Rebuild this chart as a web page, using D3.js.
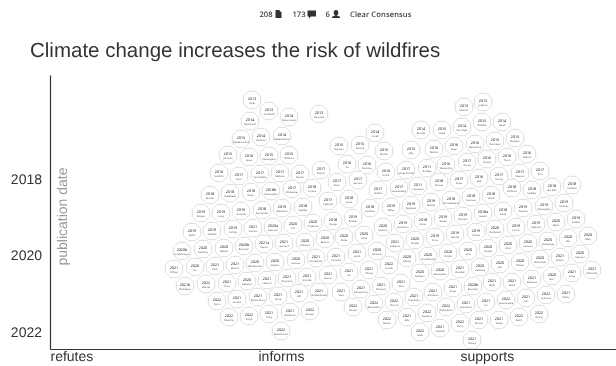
<!DOCTYPE html>
<html lang="en">
<head>
<meta charset="UTF-8">
<title>Climate change increases the risk of wildfires</title>
<style>
    html, body { margin: 0; padding: 0; background: #fff; overflow: hidden; }
    svg { display: block; text-rendering: geometricPrecision; filter: grayscale(1); }
</style>
</head>
<body>
<svg id="svg" width="616" height="366"></svg>
<script src="https://cdn.jsdelivr.net/npm/d3@7"></script>
<script>
// values
const chartTitle = "Climate change increases the risk of wildfires";
const headerCounts = ["208", "173", "6"];
const headerVerdict = "Clear Consensus";

const xTickValues = [-104, 0, 101];
const xTickLabels = ["refutes", "informs", "supports"];
const yTickValues = [0, 76.5, 153];
const yTickLabels = ["2018", "2020", "2022"];
const yAxisLabel = "publication date";

const paperYears = [
    "2013","2014","2013","2014","2013","2015","2014","2014","2015","2016",
    "2015","2015","2016","2017","2017","2017","2017","2017","2018","2018",
    "2018","2018b","2017","2018","2019","2019","2019","2018","2019","2018",
    "2019","2019","2019","2021","2020a","2020","2020","2020b","2020","2020",
    "2020b","2021a","2021","2020","2021","2020","2021","2021","2020","2020",
    "2020","2021","2021","2021b","2022","2021","2020","2021","2021","2021",
    "2021","2022","2021","2021","2021","2021","2021","2022","2022","2021",
    "2021","2022","2022","2015","2015","2016","2016","2014","2015","2016",
    "2017","2017","2017","2017","2018","2018","2018","2019","2020","2020",
    "2020","2020","2021","2020","2021","2021","2022","2021","2021","2021",
    "2021","2022","2014","2015","2013","2014","2013","2015","2014","2015",
    "2016","2016","2016","2015","2015","2017","2011","2016","2017","2016",
    "2016","2016","2017","2011","2018","2017","2016","2017","2017","2017",
    "2019","2019","2019","2018","2018","2018","2018","2018","2018","2018",
    "2019","2018","2019","2019","2018a","2018","2019","2019","2019","2021",
    "2020","2019","2019","2019","2020","2019","2019","2020","2019","2020",
    "2020","2020","2020","2020","2020","2020","2020","2020","2020","2020",
    "2020","2021","2020","2020","2020","2020","2021","2020","2021","2021",
    "2020b","2021","2021","2021","2020","2021","2021","2022","2022","2021",
    "2022","2021","2021","2022","2021","2022","2021","2022","2021","2022",
    "2022","2021","2021","2022","2022","2022","2021","2021"
];

const paperAuthors = [
    "Ogle","Reinhardt","Archibald","Bojanowski","Hanaoka","Aghakouchak","Bistinas","Abdelrahman","Johnson","Hsiao",
    "Abatzoglou","Williams","Hanklin","Hurt","Yannakakis","Gibbons","Benali","Ruprin","Bruder","Hollebeek",
    "Doerr","Abatzoglou","Kitzberger","Urrutia","Rogers","Lang","Varanda","Fernandez","Robinson","Koehler",
    "Tedim","Abdalla","Kirkby","Vasconi","Pearson","Oil","Prudence","Lindenmayer","Halofsky","Abbott",
    "Bowman","Pierce","Harvard","Johnston","Officer","Hu","Park","Marlon","Westbrooks","Higgins",
    "Hansen","Concepción","Turcotte","Rodriguez","Merida","Ortiz","LeBreton","Liberati","Dennison","Ermitão",
    "Garcia","Parco","Aurelio","Dennisthorn","Hung","Hill","Vandenbroek","Mancilla","Singh","Tang",
    "Wolfgram","Boreux","Westmacott","Higuera","Hening","Ye","Pechony","Curell","Brooks","Smith",
    "Knorr","Serrano","Holden","Syphard","Jones","Ivanhoe","Knapp","Poulter","Hickory","Balsam",
    "Parks","Littell","Lamb","McCarty","Hu","Cheng","Carallo","Silva","Wasserman","Dunnery",
    "Smit","Roofer","Brando","Hope","Morton","Van Oijen","Jackson","Rodolfo","Head","Jolly",
    "Perkins","Keeri","Westerling","Flannigan","Barbero","James Parcell","Bradley","Westerling","Young","Parisot",
    "Turco","Wotton","Stuckenberg","Luyssaert","Alvarez","Page","Salk","Young","Masson","Tarn",
    "Dikes","Ruggiero","Moody","Schmeltzberg","Hurteau","Hood","Williams","Helliker","Bartlett","Cradock",
    "Hofmann","Forrer","Green","Romero","Hewitt","Littell","Parente","Abatzoglou","Holmes","Collenon",
    "Virgilio","Sirus","Gerald","Canjes","Bradstock","Harris","Syphard","Matin","Kolden","Zhang",
    "Cruickshank","Virgilio","Xing","Cloudy","Ahat","Hanson","Kitzberger","Doi","Riley","Barbero",
    "Abatzoglou","Alizadeh","Halofsky","Jain","Wilson","Dobrowski","Brown","Higuera","Ashdown","Kings",
    "Bowman","Abdo","Mack","Peterson","Barr","Jones","McCarthy","Bernardino","Chiram","Impakata",
    "Richardson","Hamerow","Jin","Senanayake","Just","Lafrance","Mosly","Brown","Ellis","Hawkins",
    "Perry","Burton","Turley","Balch","Doing","Seidl","Crowfall","Urbany"
];

// stance score: refutes about -104, informs 0, supports about 101
const paperStance = [
    -3,-4,5.5,15.5,30.5,-8.5,1.5,12,-15,-4.5,
    5.5,15.5,-19.5,-9.5,1,11,21,31.5,-24,-14,
    -3.5,6.5,17,27,-28.5,-18.5,-8.5,2,12,22.5,
    -33,-23,-12.5,-2.5,7.5,17.5,27.5,-38,-27.5,-17,
    -7,3,13,23.5,-42,-31.5,-21.5,-11.5,-1.5,8.5,
    19,29,39,-36.5,-26,-15.5,-5.5,4.5,14.5,24.5,
    35,-20.5,-10.5,0,10,20.5,30.5,-14.5,-4.5,5.5,
    16,26,11.5,40.5,51,44.5,54.5,58.5,63,64,
    39.5,50,60,35,45.5,56,37.5,47.5,62.5,33.5,
    43,53,49.5,59.5,45.5,55.5,65.5,41.5,51.5,61.5,
    71.5,47.5,81.5,92,103,102,112.5,112,122,76.5,
    88,98,108.5,118.5,128.5,74,84.5,94,104.5,114.5,
    124.5,134.5,70.5,80,90.5,100.5,110.5,120.5,131,141,
    66.5,76.5,86.5,96.5,106.5,116.5,127,137,147,157,
    72.5,82.5,92.5,102.5,112.5,122.5,132.5,143,153,68.5,
    78.5,88.5,98.5,109,118.5,129,139,149,159,74.5,
    85,95,105,115,125,135,145,155,165,81,
    91,101,111,121,131,141,151,161,87.5,97.5,
    107.5,117,127,137,147,157,167,58,68,78,
    94,104,114,124,134,144,154,64.5,74.5,84.5,
    101,110.5,120.5,130.5,140.5,81,91,107
];

// publication date in ten-day steps from the start of 2018, as placed in the chart
const paperPublished = [
    -79,-58,-68,-62,-65,-40,-42,-43,-24,-22,
    -23,-24,-6,-3,-5,-6,-5,-9,16,14,
    13,12,10,9,34,34,32,31,29,28,
    53,52,50,49,48,46,44,72,70,69,
    67,65,64,63,90,88,87,86,84,83,
    81,79,78,107,105,104,102,101,99,98,
    96,122,120,118,117,114,113,138,137,135,
    133,132,152,-33,-34,-15,-14,-46,-28,-7,
    3,1,11,22,20,29,42,39,48,60,
    58,56,74,72,93,91,86,113,110,107,
    104,128,-49,-49,-72,-52,-77,-57,-57,-29,
    -30,-33,-35,-38,-41,-9,-11,-14,-17,-20,
    -22,-25,9,7,3,1,-1,-3,-6,-8,
    28,26,23,21,18,16,9,11,8,6,
    45,42,39,37,34,32,29,27,24,64,
    61,58,55,53,50,48,45,43,40,79,
    77,74,72,69,66,64,62,59,57,94,
    92,90,88,85,83,80,78,75,113,109,
    107,103,103,100,97,94,91,125,123,118,
    128,125,123,121,119,116,115,141,138,134,
    144,141,141,138,135,153,149,161
];

const svg = d3.select("#svg");
const textColor = "#333";
const sansFont = "'Liberation Sans', Arial, sans-serif";
const smallFont = "'Noto Sans', sans-serif";

const x = d3.scaleLinear().domain([-104, 179]).range([50, 616]);
const y = d3.scaleLinear().domain([-104, 170]).range([75, 349]);

// header line
const header = svg.append("g")
    .attr("font-family", smallFont)
    .attr("font-size", 7.6)
    .attr("font-weight", 500)
    .attr("fill", textColor);
[259.5, 292.5, 325.5].forEach((left, i) => {
    header.append("text").attr("x", left).attr("y", 17).text(headerCounts[i]);
});
header.append("text").attr("x", 350).attr("y", 17).attr("letter-spacing", 0.1).text(headerVerdict);
// document, comment and person icons
header.append("path").attr("d", "M275.5 10h3.5l2.5 2.5v5.5h-6z");
header.append("path").attr("d", "M307.5 10.5h8.5v6h-5l-2 2v-2h-1.5z");
header.append("path").attr("d", "M336 10a2.2 2.6 0 0 1 0 5.4a2.2 2.6 0 0 1 0-5.4zM332 18v-1.2l3-1.4h2l3 1.4v1.2z");

svg.append("text")
    .attr("x", 30)
    .attr("y", 57)
    .attr("font-family", sansFont)
    .attr("font-size", 20.5)
    .attr("fill", textColor)
    .text(chartTitle);

// axes
const yAxis = svg.append("g")
    .attr("transform", `translate(${x.range()[0]},0)`)
    .call(d3.axisLeft(y).tickValues(yTickValues).tickFormat((d, i) => yTickLabels[i]).tickSize(0).tickPadding(8));
const xAxis = svg.append("g")
    .attr("transform", `translate(0,${y.range()[1]})`)
    .call(d3.axisBottom(x).tickValues(xTickValues).tickFormat((d, i) => xTickLabels[i]).tickSize(0).tickPadding(2));
[yAxis, xAxis].forEach(axis => {
    axis.selectAll("text")
        .attr("font-family", sansFont)
        .attr("font-size", 14)
        .attr("fill", textColor);
    axis.select(".domain").attr("stroke", textColor).attr("stroke-width", 1.2);
});
xAxis.selectAll("text").attr("text-anchor", "start");

svg.append("text")
    .attr("transform", "translate(67,216.5) rotate(-90)")
    .attr("text-anchor", "middle")
    .attr("font-family", sansFont)
    .attr("font-size", 14)
    .attr("fill", "#999")
    .text(yAxisLabel);

// octagon for each paper
const octagon = d3.lineRadial()
    .angle(d => d)
    .radius(9.4)
    .curve(d3.curveLinearClosed)(d3.range(8).map(i => (i + 0.5) * Math.PI / 4));

const papers = svg.append("g")
    .selectAll("g")
    .data(paperYears)
    .join("g")
    .attr("transform", (d, i) => `translate(${x(paperStance[i])},${y(paperPublished[i])})`);

papers.append("path")
    .attr("d", octagon)
    .attr("fill", "#fff")
    .attr("stroke", "#dcdcdc")
    .attr("stroke-width", 1)
    .attr("stroke-linejoin", "round");

papers.append("text")
    .attr("text-anchor", "middle")
    .attr("y", -0.4)
    .attr("font-family", smallFont)
    .attr("font-size", 3.7)
    .attr("fill", "#222")
    .text(d => d);

papers.append("text")
    .attr("text-anchor", "middle")
    .attr("y", 3.5)
    .attr("font-family", smallFont)
    .attr("font-size", 2.5)
    .attr("fill", "#555")
    .text((d, i) => paperAuthors[i]);
</script>
</body>
</html>
